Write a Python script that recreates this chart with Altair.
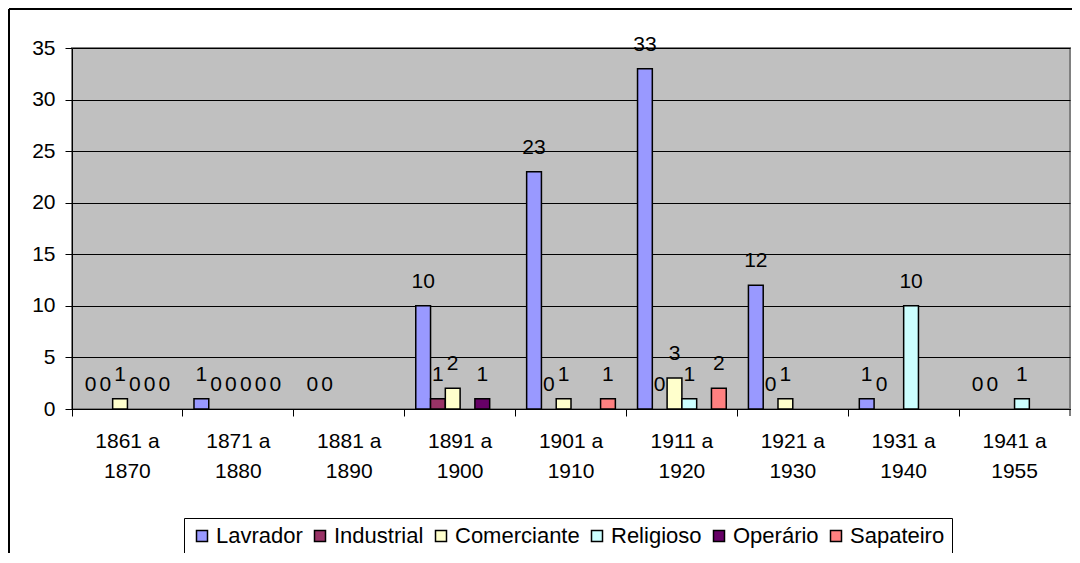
import altair as alt
import pandas as pd

categories = ["1861 a 1870", "1871 a 1880", "1881 a 1890", "1891 a 1900", "1901 a 1910",
              "1911 a 1920", "1921 a 1930", "1931 a 1940", "1941 a 1955"]
series = ["Lavrador", "Industrial", "Comerciante", "Religioso", "Operário", "Sapateiro"]
colors = ["#9999FF", "#993366", "#FFFFCC", "#CCFFFF", "#660066", "#FF8080"]

lavrador = [0, 1, 0, 10, 23, 33, 12, 1, 0]
industrial = [0, 0, 0, 1, 0, 0, 0, 0, 0]
comerciante = [1, 0, None, 2, 1, 3, 1, None, None]
religioso = [0, 0, None, None, None, 1, None, 10, 1]
operario = [0, 0, None, 1, None, None, None, None, None]
sapateiro = [0, 0, None, None, 1, 2, None, None, None]

values = [lavrador, industrial, comerciante, religioso, operario, sapateiro]
rows = []
for s, vals in zip(series, values):
    for c, v in zip(categories, vals):
        if v is not None:
            rows.append({"periodo": c, "serie": s, "valor": v})
df = pd.DataFrame(rows)

FONT = "Liberation Sans"
W, H = 998, 361

x_enc = alt.X("periodo:N", sort=categories,
              scale=alt.Scale(domain=categories, paddingInner=0, paddingOuter=0),
              axis=alt.Axis(title=None, labelExpr="[substring(datum.value,0,6), substring(datum.value,7)]",
                            labelAngle=0, labelFontSize=21, labelFont=FONT, labelColor="black",
                            labelLineHeight=30, labelPadding=14, tickSize=7, tickColor="black",
                            domainColor="black", bandPosition=0, grid=False, labelBaseline="top"))
y_enc = alt.Y("valor:Q", scale=alt.Scale(domain=[0, 35], nice=False),
              axis=alt.Axis(title=None, values=[0, 5, 10, 15, 20, 25, 30, 35], labelFontSize=21,
                            labelFont=FONT, labelColor="black", labelPadding=10, tickSize=7,
                            tickColor="black", domainColor="black", grid=True, gridColor="#000000",
                            gridWidth=1))
xo = alt.XOffset("serie:N", scale=alt.Scale(domain=series, paddingOuter=0.75, paddingInner=0))

bars = alt.Chart(df).transform_filter("datum.valor > 0").mark_bar(
    stroke="black", strokeWidth=1.5).encode(
    x=x_enc, y=y_enc, xOffset=xo,
    color=alt.Color("serie:N", scale=alt.Scale(domain=series, range=colors),
                    legend=alt.Legend(title=None, orient="none", legendX=112, legendY=470,
                                      direction="horizontal", columns=6, symbolType="square",
                                      symbolSize=121, symbolStrokeColor="black",
                                      symbolStrokeWidth=1.5, labelFontSize=22, labelFont=FONT,
                                      labelColor="black", labelOffset=3, columnPadding=6,
                                      padding=7, strokeColor="black", fillColor="white",
                                      symbolOpacity=1)),
)

labels = alt.Chart(df).mark_text(dy=-18, baseline="alphabetic", fontSize=21, font=FONT,
                                 color="black").encode(
    x=x_enc, y=y_enc, xOffset=xo, text=alt.Text("valor:Q"))

deco = alt.Data(values=[{"k": 1}])
border_left = alt.Chart(deco).mark_rule(color="black", strokeWidth=2).encode(
    x=alt.value(-63), y=alt.value(-39), y2=alt.value(520))
border_top = alt.Chart(deco).mark_rule(color="black", strokeWidth=2).encode(
    x=alt.value(-63), x2=alt.value(1010), y=alt.value(-39))
right_tick = alt.Chart(deco).mark_rule(color="black", strokeWidth=1).encode(
    x=alt.value(W), y=alt.value(H), y2=alt.value(H + 7))

chart = alt.layer(bars, labels, border_left, border_top, right_tick).properties(
    width=W, height=H,
    padding={"left": 64, "top": 40, "right": 2, "bottom": 144},
    autosize=alt.AutoSizeParams(type="none"),
).configure(background="white").configure_view(fill="#C0C0C0", stroke="#808080", strokeWidth=2)

chart.save("out.html", embed_options={"renderer": "svg", "actions": False})
